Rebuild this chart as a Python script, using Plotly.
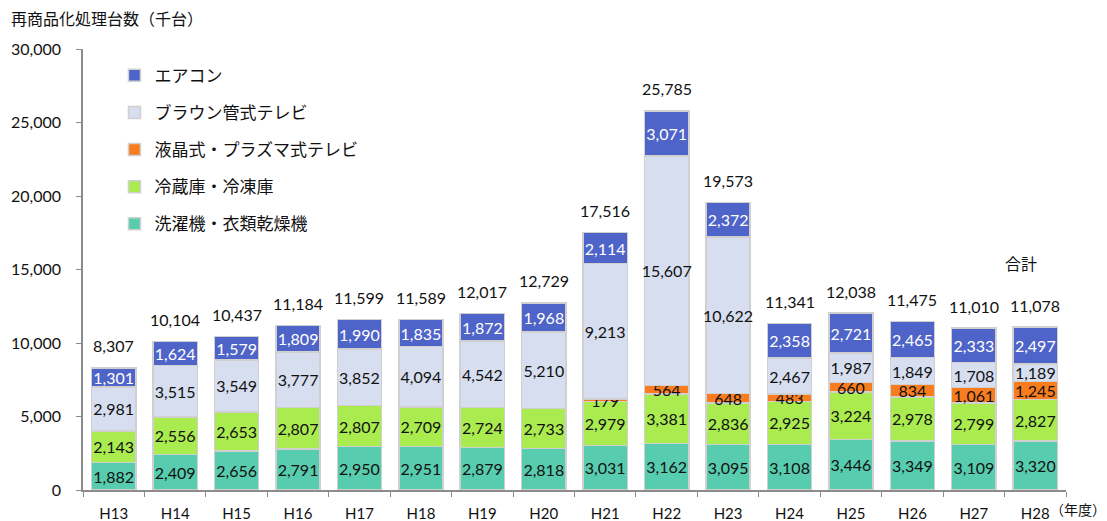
import plotly.graph_objects as go

categories = ["H13", "H14", "H15", "H16", "H17", "H18", "H19", "H20",
              "H21", "H22", "H23", "H24", "H25", "H26", "H27", "H28"]

washer = [1882, 2409, 2656, 2791, 2950, 2951, 2879, 2818,
          3031, 3162, 3095, 3108, 3446, 3349, 3109, 3320]
fridge = [2143, 2556, 2653, 2807, 2807, 2709, 2724, 2733,
          2979, 3381, 2836, 2925, 3224, 2978, 2799, 2827]
flat_tv = [0, 0, 0, 0, 0, 0, 0, 0,
           179, 564, 648, 483, 660, 834, 1061, 1245]
crt_tv = [2981, 3515, 3549, 3777, 3852, 4094, 4542, 5210,
          9213, 15607, 10622, 2467, 1987, 1849, 1708, 1189]
aircon = [1301, 1624, 1579, 1809, 1990, 1835, 1872, 1968,
          2114, 3071, 2372, 2358, 2721, 2465, 2333, 2497]
totals = [8307, 10104, 10437, 11184, 11599, 11589, 12017, 12729,
          17516, 25785, 19573, 11341, 12038, 11475, 11010, 11078]

series_names = ["洗濯機・衣類乾燥機", "冷蔵庫・冷凍庫", "液晶式・プラズマ式テレビ",
                "ブラウン管式テレビ", "エアコン"]
series_values = [washer, fridge, flat_tv, crt_tv, aircon]
series_colors = ["#58CCAE", "#AAEB50", "#F97D1E", "#D6DEF0", "#4F64C8"]
label_colors = ["#111111", "#111111", "#111111", "#111111", "#FFFFFF"]

NUM_FONT = "Lato, 'Noto Sans', sans-serif"
JP_FONT = "'Noto Sans CJK JP', 'Noto Sans', sans-serif"

fig = go.Figure()
n = len(series_names)
for i, (name, vals, col, lc) in enumerate(zip(series_names, series_values,
                                              series_colors, label_colors)):
    fig.add_trace(go.Bar(
        x=categories, y=vals, name=name,
        marker=dict(color=col, line=dict(color="#D0D0D0", width=1.5)),
        text=[f"{v:,}" if v > 0 else "" for v in vals],
        textposition="inside", insidetextanchor="middle", textangle=0,
        insidetextfont=dict(family=NUM_FONT, size=16, color=lc),
        legendgroup=f"g{i}", legendrank=n - i,
        hoverinfo="skip",
    ))

annotations = []
for c, t in zip(categories, totals):
    annotations.append(dict(
        x=c, y=t, xref="x", yref="y", text=f"{t:,}", showarrow=False,
        yanchor="middle", yshift=22,
        font=dict(family=NUM_FONT, size=16, color="#111111")))

annotations.append(dict(
    x=categories[-1], y=totals[-1], xref="x", yref="y", text="合計",
    showarrow=False, yanchor="middle", yshift=64, xshift=-14,
    font=dict(family=JP_FONT, size=16, color="#111111")))
annotations.append(dict(
    x=-0.075, y=1.07, xref="paper", yref="paper", text="再商品化処理台数（千台）",
    showarrow=False, xanchor="left", yanchor="middle",
    font=dict(family=JP_FONT, size=16, color="#111111")))
annotations.append(dict(
    x=1.043, y=-0.043, xref="paper", yref="paper", text="（年度）",
    showarrow=False, xanchor="right", yanchor="middle",
    font=dict(family=JP_FONT, size=14, color="#111111")))

fig.update_layout(
    width=1107, height=521,
    barmode="stack", bargap=0.28,
    paper_bgcolor="white", plot_bgcolor="white",
    margin=dict(l=83, r=41, t=49, b=31, autoexpand=False),
    uniformtext=dict(minsize=16, mode="show"),
    showlegend=True,
    legend=dict(
        x=0.032, y=0.98, xanchor="left", yanchor="top",
        traceorder="grouped", tracegroupgap=12,
        bgcolor="rgba(0,0,0,0)",
        font=dict(family=JP_FONT, size=17, color="#111111"),
        itemwidth=30,
    ),
    annotations=annotations,
    xaxis=dict(
        showline=True, linecolor="#8C8C8C", linewidth=1.5,
        ticks="outside", tickson="boundaries", ticklen=5, tickcolor="#8C8C8C",
        tickfont=dict(family=NUM_FONT, size=15, color="#111111"),
        ticklabelstandoff=9,
        showgrid=False,
    ),
    yaxis=dict(
        range=[0, 30000], tickvals=[0, 5000, 10000, 15000, 20000, 25000, 30000],
        tickformat=",", showline=True, linecolor="#8C8C8C", linewidth=1.5,
        ticks="outside", ticklen=5, tickcolor="#8C8C8C",
        tickfont=dict(family=NUM_FONT, size=16, color="#111111"),
        ticklabelstandoff=12,
        showgrid=False, zeroline=False,
    ),
)

fig.write_html("out.html")
